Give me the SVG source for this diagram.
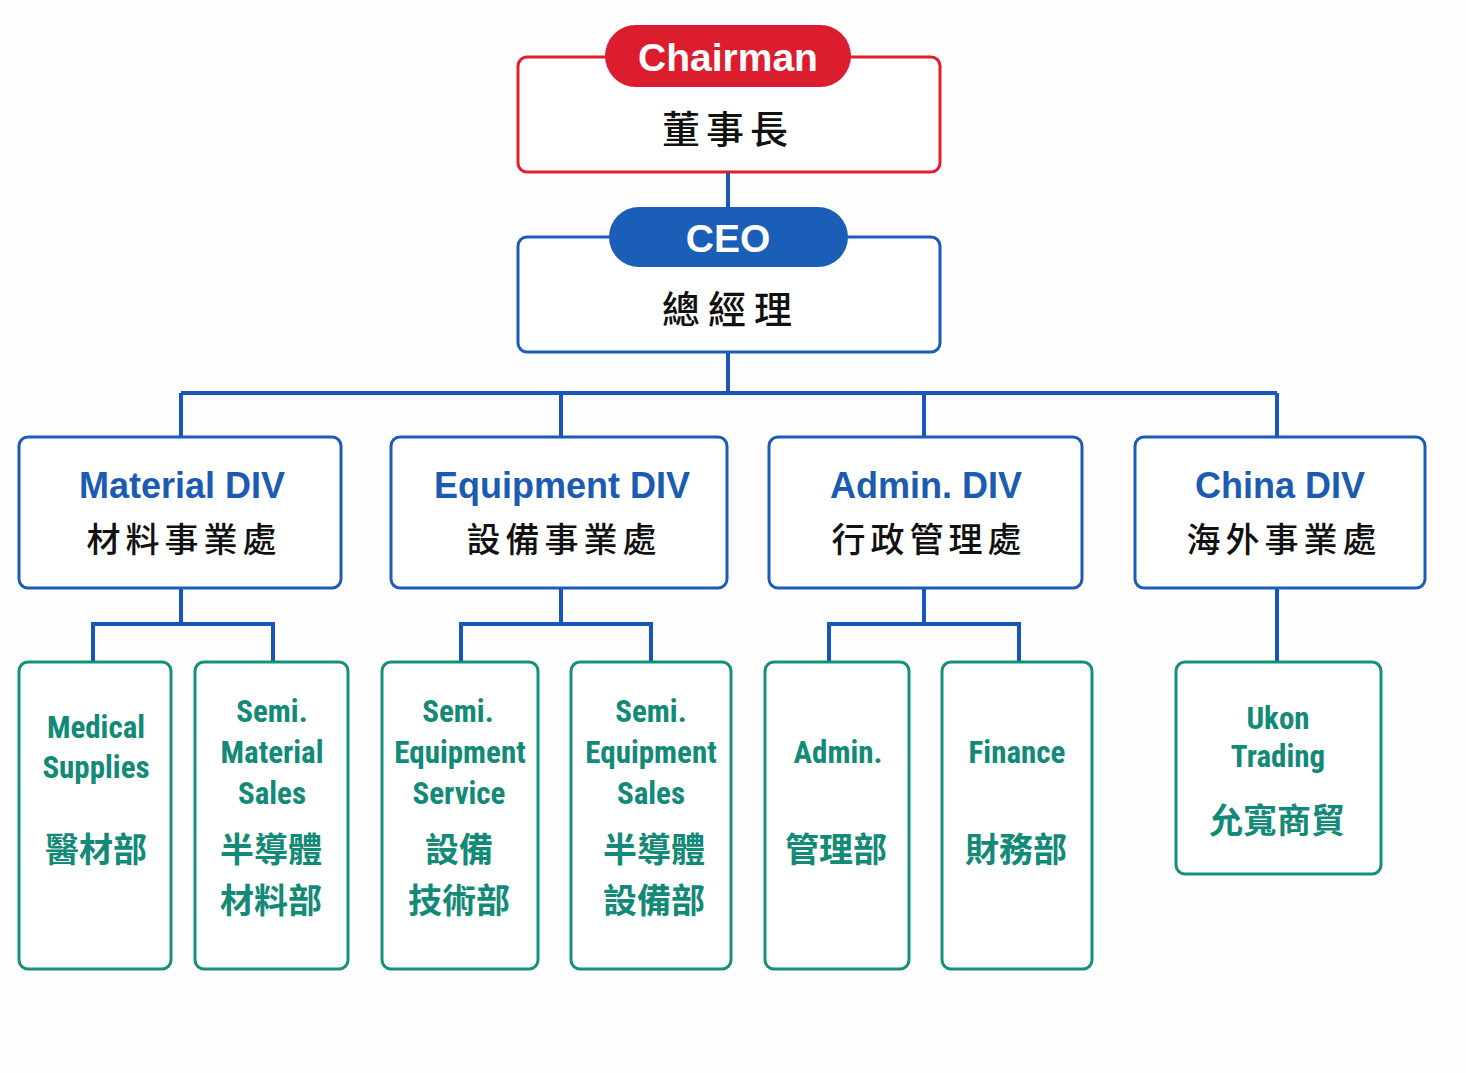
<svg xmlns="http://www.w3.org/2000/svg" width="1466" height="1073" viewBox="0 0 1466 1073">
<style>
.bg{fill:#fdfdfd}
.red{fill:#fff;stroke:#e0202c;stroke-width:3}
.blue{fill:#fff;stroke:#1c5cb8;stroke-width:3}
.teal{fill:#fff;stroke:#14907d;stroke-width:3}
.conn{fill:none;stroke:#1a55bd;stroke-width:4}
.pill-t{font-family:"Liberation Sans",Arial,sans-serif;font-weight:bold;fill:#fff;text-anchor:middle}
.zh{font-family:"Noto Sans CJK TC","Noto Sans CJK SC",sans-serif;fill:#111;text-anchor:middle;font-weight:500}
.dt{font-family:"Liberation Sans",Arial,sans-serif;font-weight:bold;fill:#1b5cb2;text-anchor:middle;font-size:36px}
.lt{font-family:"Liberation Sans Narrow","Roboto Condensed","Liberation Sans",sans-serif;font-weight:bold;fill:#128a77;text-anchor:middle;font-size:31px}
.lz{font-family:"Noto Sans CJK TC","Noto Sans CJK SC",sans-serif;fill:#128a77;text-anchor:middle;font-size:34px;font-weight:700}
</style>
<rect class="bg" x="0" y="0" width="1466" height="1073"/>
<g id="connectors">
<path class="conn" d="M728 172V208"/>
<path class="conn" d="M728 352V393M181 393H1277M181 393V437M561 393V437M924 393V437M1277 393V437"/>
<path class="conn" d="M181 588V624M93 662V624H273V662"/>
<path class="conn" d="M561 588V624M461 662V624H651V662"/>
<path class="conn" d="M924 588V624M829 662V624H1019V662"/>
<path class="conn" d="M1277 588V662"/>
</g>
<g id="chairman">
<rect class="red" x="518" y="57" width="422" height="115" rx="9"/>
<rect x="605" y="25" width="246" height="62" rx="31" fill="#dc1d2e"/>
<text class="pill-t" x="728" y="71" font-size="39">Chairman</text>
<text class="zh" x="728" y="143" font-size="38" letter-spacing="6">董事長</text>
</g>
<g id="ceo">
<rect class="blue" x="518" y="237" width="422" height="115" rx="9"/>
<rect x="609" y="207" width="239" height="60" rx="30" fill="#1a5eb7"/>
<text class="pill-t" x="728" y="252" font-size="39">CEO</text>
<text class="zh" x="731" y="323" font-size="38" letter-spacing="8">總經理</text>
</g>
<g id="material-div">
<rect class="blue" x="19" y="437" width="322" height="151" rx="9"/>
<text class="dt" x="182" y="498">Material DIV</text>
<text class="zh" x="184" y="552" font-size="34" letter-spacing="5">材料事業處</text>
</g>
<g id="equipment-div">
<rect class="blue" x="391" y="437" width="336" height="151" rx="9"/>
<text class="dt" x="562" y="498">Equipment DIV</text>
<text class="zh" x="564" y="552" font-size="34" letter-spacing="5">設備事業處</text>
</g>
<g id="admin-div">
<rect class="blue" x="769" y="437" width="313" height="151" rx="9"/>
<text class="dt" x="926" y="498">Admin. DIV</text>
<text class="zh" x="929" y="552" font-size="34" letter-spacing="5">行政管理處</text>
</g>
<g id="china-div">
<rect class="blue" x="1135" y="437" width="290" height="151" rx="9"/>
<text class="dt" x="1280" y="498">China DIV</text>
<text class="zh" x="1284" y="552" font-size="34" letter-spacing="5">海外事業處</text>
</g>
<g id="medical">
<rect class="teal" x="19" y="662" width="152" height="307" rx="9"/>
<text class="lt" x="96" y="738">Medical</text>
<text class="lt" x="96" y="778">Supplies</text>
<text class="lz" x="96" y="862">醫材部</text>
</g>
<g id="semi-material-sales">
<rect class="teal" x="195" y="662" width="153" height="307" rx="9"/>
<text class="lt" x="272" y="722">Semi.</text>
<text class="lt" x="272" y="763">Material</text>
<text class="lt" x="272" y="804">Sales</text>
<text class="lz" x="271" y="862">半導體</text>
<text class="lz" x="271" y="913">材料部</text>
</g>
<g id="semi-equipment-service">
<rect class="teal" x="382" y="662" width="156" height="307" rx="9"/>
<text class="lt" x="458" y="722">Semi.</text>
<text class="lt" x="460" y="763">Equipment</text>
<text class="lt" x="459" y="804">Service</text>
<text class="lz" x="459" y="862">設備</text>
<text class="lz" x="459" y="913">技術部</text>
</g>
<g id="semi-equipment-sales">
<rect class="teal" x="571" y="662" width="160" height="307" rx="9"/>
<text class="lt" x="651" y="722">Semi.</text>
<text class="lt" x="651" y="763">Equipment</text>
<text class="lt" x="651" y="804">Sales</text>
<text class="lz" x="654" y="862">半導體</text>
<text class="lz" x="654" y="913">設備部</text>
</g>
<g id="admin">
<rect class="teal" x="765" y="662" width="144" height="307" rx="9"/>
<text class="lt" x="838" y="763">Admin.</text>
<text class="lz" x="836" y="862">管理部</text>
</g>
<g id="finance">
<rect class="teal" x="942" y="662" width="150" height="307" rx="9"/>
<text class="lt" x="1017" y="763">Finance</text>
<text class="lz" x="1016" y="862">財務部</text>
</g>
<g id="ukon">
<rect class="teal" x="1176" y="662" width="205" height="212" rx="9"/>
<text class="lt" x="1278" y="729">Ukon</text>
<text class="lt" x="1278" y="767">Trading</text>
<text class="lz" x="1277" y="833">允寬商貿</text>
</g>
</svg>
